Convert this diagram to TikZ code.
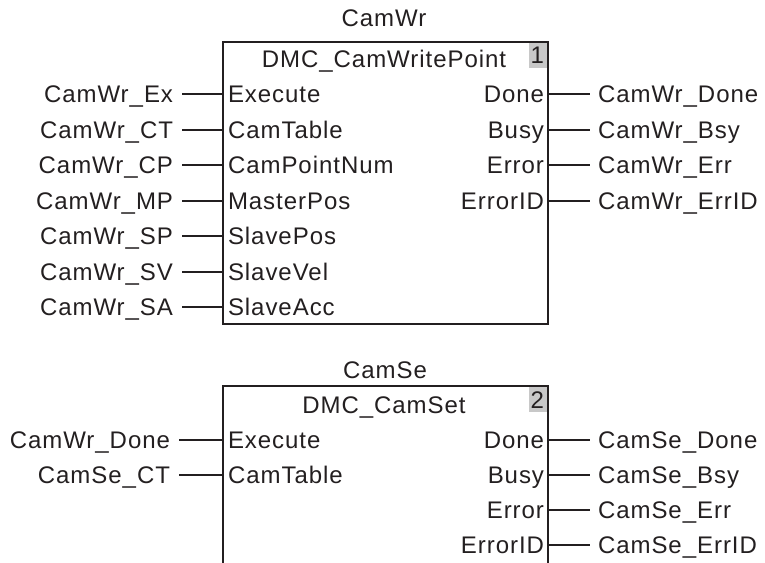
\documentclass[tikz,border=0pt]{standalone}
\usepackage{fontspec}
\setmainfont[LetterSpace=4]{Liberation Sans}
\definecolor{ink}{HTML}{231F20}
\definecolor{tag}{HTML}{C8C8C8}
\tikzset{
  lbl/.style={inner sep=0pt, outer sep=0pt, text height=17pt, text depth=0pt, text=ink},
  extin/.style={lbl, anchor=east},
  extout/.style={lbl, anchor=west},
  pinin/.style={lbl, anchor=west},
  pinout/.style={lbl, anchor=east},
  fbox/.style={draw=ink, line width=2pt, minimum width=325pt, inner sep=0pt, outer sep=0pt},
  tagbox/.style={fill=tag, minimum width=18pt, minimum height=25pt, inner sep=0pt, anchor=north east, text=ink, align=right},
  wire/.style={draw=ink, line width=2pt},
  title/.style={lbl}
}
\begin{document}
\begin{tikzpicture}[x=1pt, y=-1pt, font=\fontsize{24}{28}\selectfont]
\useasboundingbox (0,0) rectangle (765,562);
\clip (0,0) rectangle (765,562);

% ---------- block 1 ----------
\node[title] (t1) at (384,18) {CamWr};
\node[fbox, minimum height=282pt] (box1) at (385.5,183) {};
\node[tagbox] (n1) at ([xshift=-1pt,yshift=-1pt]box1.north east) {\hfill1\kern1pt};
\node[title] (f1) at (384,59) {DMC\_CamWritePoint};

\foreach \y/\e/\p [count=\i] in {94/CamWr\_Ex/Execute, 129.5/CamWr\_CT/CamTable, 165/CamWr\_CP/CamPointNum, 200.5/CamWr\_MP/MasterPos, 236/CamWr\_SP/SlavePos, 271.5/CamWr\_SV/SlaveVel, 307/CamWr\_SA/SlaveAcc}{
  \node[extin] (ai\i) at (173,\y) {\e};
  \node[pinin] (pi\i) at (228,\y) {\p};
  \draw[wire] ([xshift=9pt]ai\i.east) -- (ai\i.east -| box1.west);
}
\foreach \y/\p/\e [count=\i] in {94/Done/CamWr\_Done, 129.5/Busy/CamWr\_Bsy, 165/Error/CamWr\_Err, 200.5/ErrorID/CamWr\_ErrID}{
  \node[pinout] (po\i) at (544,\y) {\p};
  \node[extout] (ao\i) at (598,\y) {\e};
  \draw[wire] (ao\i.west -| box1.east) -- ([xshift=-8pt]ao\i.west);
}

% ---------- block 2 ----------
\node[title] (t2) at (385,370) {CamSe};
\node[fbox, minimum height=214pt] (box2) at (385.5,493) {};
\node[tagbox] (n2) at ([xshift=-1pt,yshift=-1pt]box2.north east) {\hfill2\kern1pt};
\node[title] (f2) at (384,405) {DMC\_CamSet};

\foreach \y/\e/\p [count=\i] in {440/CamWr\_Done/Execute, 475/CamSe\_CT/CamTable}{
  \node[extin] (bi\i) at (170,\y) {\e};
  \node[pinin] (qi\i) at (228,\y) {\p};
  \draw[wire] ([xshift=9pt]bi\i.east) -- (bi\i.east -| box2.west);
}
\foreach \y/\p/\e [count=\i] in {440/Done/CamSe\_Done, 475/Busy/CamSe\_Bsy, 510/Error/CamSe\_Err, 545/ErrorID/CamSe\_ErrID}{
  \node[pinout] (qo\i) at (544,\y) {\p};
  \node[extout] (bo\i) at (598,\y) {\e};
  \draw[wire] (bo\i.west -| box2.east) -- ([xshift=-8pt]bo\i.west);
}
\end{tikzpicture}
\end{document}
